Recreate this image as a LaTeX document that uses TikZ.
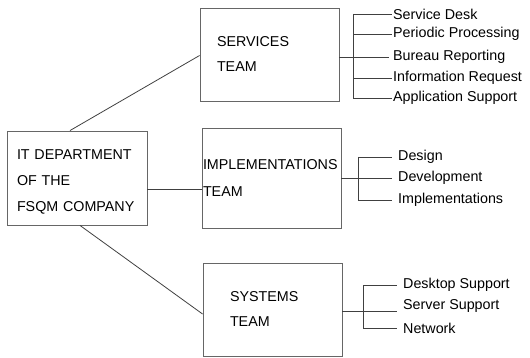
\documentclass[tikz,border=0pt]{standalone}
\usepackage{fontspec}
\setmainfont{Liberation Sans}
\usepackage{tikz}
\usetikzlibrary{positioning,calc}

\begin{document}
\begin{tikzpicture}[x=1pt,y=-1pt,
		teambox/.style={draw=black!60,line width=0.9pt,align=left,inner xsep=1pt,
			font=\fontsize{14.3}{26}\selectfont},
		leaf/.style={anchor=west,inner xsep=1pt,inner ysep=1pt,font=\fontsize{14.3}{17}\selectfont},
		link/.style={draw=black!75,line width=0.8pt}]
		\useasboundingbox (0,0) rectangle (530,358);
		% department and team boxes
		\node[teambox,minimum width=140pt,minimum height=94pt,text width=120pt] (dept) at (77,178) {\rule{0pt}{18.5pt}IT DEPARTMENT\\OF THE\\FSQM COMPANY};
		\node[teambox,minimum width=139pt,minimum height=93pt,text width=105pt,font=\fontsize{14.3}{25}\selectfont] (svc) at (269.5,54.5) {SERVICES\\TEAM};
		\node[teambox,minimum width=139pt,minimum height=100pt,text width=137pt,font=\fontsize{14.3}{27}\selectfont] (impl) at (271.5,178) {IMPLEMENTATIONS\\TEAM};
		\node[teambox,minimum width=139pt,minimum height=93pt,text width=85pt,font=\fontsize{14.3}{25}\selectfont] (sys) at (272.5,309.5) {SYSTEMS\\TEAM};
		% department to teams
		\draw[link] ([xshift=-7pt]dept.north) -- ([yshift=-1pt]svc.west);
		\draw[link] ([yshift=-11pt]dept.east) -- ([yshift=-11pt]dept.east -| impl.west);
		\draw[link] ([xshift=3pt]dept.south) -- ([yshift=-4.5pt]sys.west);
		% services duties
		\coordinate (svcbar) at (353,57);
		\node[leaf] (desk) at (392,14) {Service Desk};
		\node[leaf] (periodic) at (392,34) {Periodic Processing};
		\node[leaf] (bureau) at (392,57) {Bureau Reporting};
		\node[leaf] (info) at (392,78) {Information Request};
		\node[leaf] (appsup) at (392,98) {Application Support};
		\draw[link] (svc.east |- svcbar) -- (svcbar);
		\draw[link] (svcbar |- desk.west) -- (svcbar |- appsup.west);
		\foreach \n in {desk,periodic,info,appsup}
			\draw[link] (svcbar |- \n.west) -- (\n.west);
		\draw[link] (svcbar) -- ([xshift=-3pt]bureau.west);
		% implementations duties
		\coordinate (implbar) at (358,178);
		\node[leaf,inner xsep=6pt] (design) at (392,157) {Design};
		\node[leaf,inner xsep=6pt] (devel) at (392,178) {Development};
		\node[leaf,inner xsep=6pt] (implem) at (392,200) {Implementations};
		\draw[link] (impl.east |- implbar) -- (implbar);
		\draw[link] (implbar |- design.west) -- (implbar |- implem.west);
		\foreach \n in {design,devel,implem}
			\draw[link] (implbar |- \n.west) -- (\n.west);
		% systems duties
		\coordinate (sysbar) at (363,311);
		\node[leaf,inner xsep=6pt] (desktop) at (397,285) {Desktop Support};
		\node[leaf,inner xsep=6pt] (server) at (397,306) {Server Support};
		\node[leaf,inner xsep=6pt] (network) at (397,328) {Network};
		\draw[link] (sys.east |- sysbar) -- (server.west |- sysbar);
		\draw[link] (sysbar |- desktop.west) -- (sysbar |- network.west);
		\foreach \n in {desktop,network}
			\draw[link] (sysbar |- \n.west) -- (\n.west);
	\end{tikzpicture}
\end{document}
